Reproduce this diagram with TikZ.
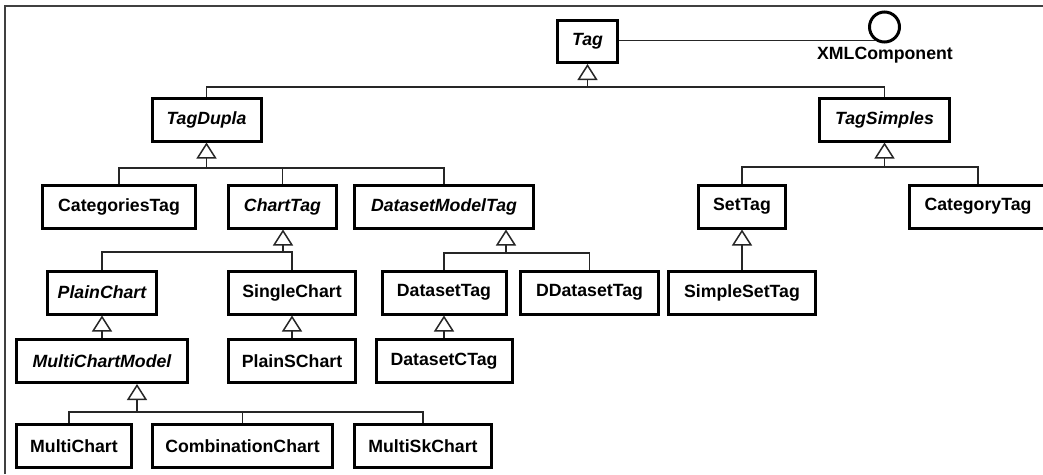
\documentclass[tikz,border=0pt]{standalone}
\usepackage{fontspec}
\setmainfont{Liberation Sans}
\usetikzlibrary{arrows.meta}
\begin{document}
\begin{tikzpicture}[x=1pt,y=-1pt,
  cls/.style={draw, line width=3pt, minimum height=43pt, inner sep=0pt, fill=white,
    font=\fontsize{17.7}{20}\selectfont\bfseries},
  abs/.style={cls, font=\fontsize{17.7}{20}\selectfont\bfseries\itshape},
  conn/.style={line width=1.5pt, black!85},
  gen/.style={conn, -{Triangle[open, length=16pt, width=20pt]}},
]
\clip (0,0) rectangle (1043,474);
\fill[white] (0,0) rectangle (1043,474);
\draw[line width=2pt, black!75] (5,474) -- (5,6) -- (1043,6);

% nodes
\node[abs, minimum width=60pt, minimum height=42pt] (Tag) at (587.5,41.5) {Tag};
\node[circle, draw, line width=3pt, minimum size=30pt, inner sep=0pt] (xml) at (884.5,27) {};
\node[font=\fontsize{17.7}{20}\selectfont\bfseries, inner sep=0pt] (xmllabel) at (885,55) {XMLComponent};

\node[abs, minimum width=109pt] (TagDupla) at (206.5,119.5) {TagDupla};
\node[abs, minimum width=130pt] (TagSimples) at (884.5,119.5) {TagSimples};

\node[cls, minimum width=153pt] (CategoriesTag) at (119,206.5) {CategoriesTag};
\node[abs, minimum width=108pt] (ChartTag) at (282.5,206.5) {ChartTag};
\node[abs, minimum width=179pt] (DatasetModelTag) at (444,206.5) {DatasetModelTag};
\node[cls, minimum width=87pt] (SetTag) at (742,206.5) {SetTag};
\node[cls, minimum width=137pt] (CategoryTag) at (978,206.5) {CategoryTag};

\node[abs, minimum width=109pt] (PlainChart) at (102,292.5) {PlainChart};
\node[cls, minimum width=127pt] (SingleChart) at (292,292.5) {SingleChart};
\node[cls, minimum width=124pt] (DatasetTag) at (444,292.5) {DatasetTag};
\node[cls, minimum width=138pt] (DDatasetTag) at (589.5,292.5) {DDatasetTag};
\node[cls, minimum width=147pt] (SimpleSetTag) at (742,293) {SimpleSetTag};

\node[abs, minimum width=171pt] (MultiChartModel) at (102,361) {MultiChartModel};
\node[cls, minimum width=127pt] (PlainSChart) at (292,361) {PlainSChart};
\node[cls, minimum width=136pt] (DatasetCTag) at (444,361) {DatasetCTag};

\node[cls, minimum width=115pt] (MultiChart) at (74,446) {MultiChart};
\node[cls, minimum width=180pt] (CombinationChart) at (242.5,446) {CombinationChart};
\node[cls, minimum width=137pt] (MultiSkChart) at (423,446) {MultiSkChart};

% junctions
\coordinate (jTag) at (587.5,87);
\coordinate (jTD) at (206.5,168);
\coordinate (jTS) at (884.5,167);
\coordinate (jCT) at (283,252);
\coordinate (jDM) at (506,253);
\coordinate (jMCM) at (137,412);

% interface
\draw[conn] (Tag.east |- xml.-125) -- (xml.-125);

% Tag
\draw[gen] (jTag) -- (jTag |- Tag.south);
\draw[conn] (TagDupla.north) |- (jTag) -| (TagSimples.north);

% TagDupla
\draw[gen] (jTD) -- (jTD |- TagDupla.south);
\draw[conn] (CategoriesTag.north) |- (jTD);
\draw[conn] (jTD) -| (DatasetModelTag.north);
\draw[conn] (ChartTag.north) -- (ChartTag.north |- jTD);

% TagSimples
\draw[gen] (jTS) -- (jTS |- TagSimples.south);
\draw[conn] (SetTag.north) |- (jTS) -| (CategoryTag.north);

% ChartTag
\draw[gen] (jCT) -- (jCT |- ChartTag.south);
\draw[conn] (PlainChart.north) |- (jCT) -| (SingleChart.north);

% DatasetModelTag
\draw[gen] (jDM) -- (jDM |- DatasetModelTag.south);
\draw[conn] (DatasetTag.north) |- (jDM) -| (DDatasetTag.north);

% single inheritance
\draw[gen] (SimpleSetTag.north) -- (SetTag.south);
\draw[gen] (MultiChartModel.north) -- (PlainChart.south);
\draw[gen] (PlainSChart.north) -- (SingleChart.south);
\draw[gen] (DatasetCTag.north) -- (DatasetTag.south);

% MultiChartModel
\draw[gen] (jMCM) -- (jMCM |- MultiChartModel.south);
\draw[conn] ([xshift=-5pt]MultiChart.north) |- (jMCM) -| (MultiSkChart.north);
\draw[conn] (CombinationChart.north) -- (CombinationChart.north |- jMCM);
\end{tikzpicture}
\end{document}
